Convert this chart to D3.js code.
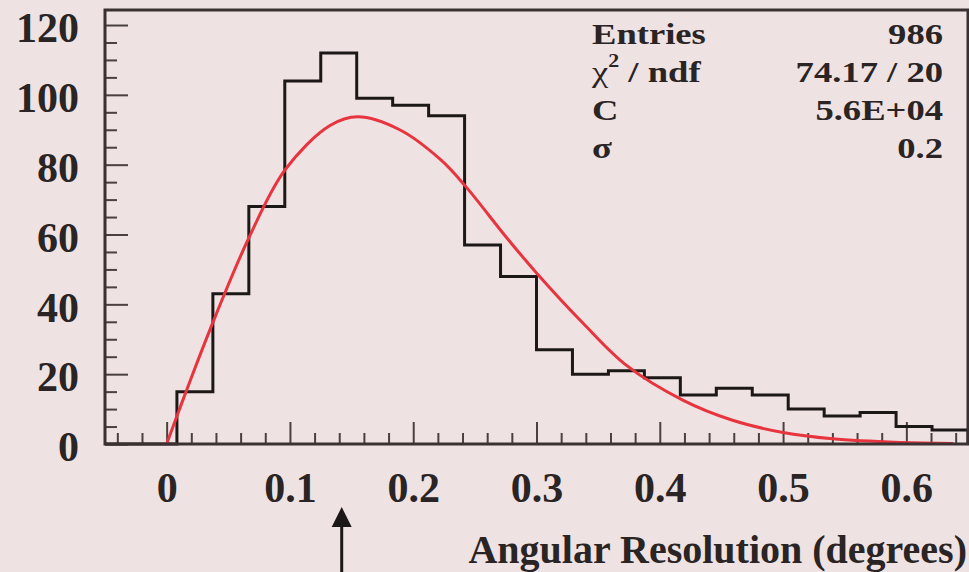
<!DOCTYPE html>
<html>
<head>
<meta charset="utf-8">
<script src="https://cdn.jsdelivr.net/npm/d3@7"></script>
<style>
  body { margin: 0; background: #eee2e2; }
  text { font-family: "Liberation Serif", "Times New Roman", serif; font-weight: bold; fill: #2a2424; }
</style>
</head>
<body>
<div id="chart"></div>
<script>
// histogram: 24 bins from -0.05 to 0.65
var binLow = -0.05;
var binHigh = 0.65;
var binCounts = [0, 0, 15, 43, 68, 104, 112, 99, 97, 94, 57, 48, 27, 20, 21, 19, 14, 16, 14, 10, 8, 9, 5, 4];

// fitted curve
var fitX = [0, 0.02, 0.04, 0.066, 0.096, 0.1325, 0.155, 0.189, 0.222, 0.242, 0.276, 0.300, 0.338, 0.373, 0.419, 0.459, 0.500, 0.540, 0.595, 0.638];
var fitY = [0, 19, 37, 58.5, 78.5, 91.2, 93.7, 90, 81.5, 74, 59, 49, 34.5, 22.5, 12.5, 6.8, 3.3, 1.5, 0.45, 0.15];

var xTicks = [0, 0.1, 0.2, 0.3, 0.4, 0.5, 0.6];
var xTickLabels = ["0", "0.1", "0.2", "0.3", "0.4", "0.5", "0.6"];
var yTicks = [0, 20, 40, 60, 80, 100, 120];

var statNames = ["Entries", "chi2", "C", "\u03c3"];
var statValues = ["986", "74.17 / 20", "5.6E+04", "0.2"];

var xTitle = "Angular Resolution (degrees)";
var arrowAt = 0.142;

var svgWidth = 969;
var svgHeight = 572;

var frame = { left: 105, right: 968, top: 10, bottom: 444 };

var svg = d3.select("#chart")
  .append("svg")
  .attr("width", svgWidth)
  .attr("height", svgHeight);

svg.append("rect")
  .attr("width", svgWidth)
  .attr("height", svgHeight)
  .attr("fill", "#eee2e2");

var x = d3.scaleLinear()
  .domain([binLow, binHigh])
  .range([frame.left, frame.right]);

var y = d3.scaleLinear()
  .domain([0, 124.3])
  .range([frame.bottom, frame.top]);

// minor ticks
var xMinor = d3.range(-0.04, 0.65, 0.02).filter(v => Math.abs(v * 10 - Math.round(v * 10)) > 1e-6);
var yMinor = d3.range(5, 124, 5).filter(v => v % 20 !== 0);

svg.append("g")
  .attr("transform", `translate(0, ${frame.bottom})`)
  .call(d3.axisBottom(x).tickValues(xMinor).tickSize(-11).tickFormat(""));

svg.append("g")
  .attr("transform", `translate(${frame.left}, 0)`)
  .call(d3.axisLeft(y).tickValues(yMinor).tickSize(-12).tickFormat(""));

// major ticks
var xAxis = svg.append("g")
  .attr("transform", `translate(0, ${frame.bottom})`)
  .call(d3.axisBottom(x)
    .tickValues(xTicks)
    .tickSize(-22)
    .tickPadding(28)
    .tickFormat((d, i) => xTickLabels[i]));

var yAxis = svg.append("g")
  .attr("transform", `translate(${frame.left}, 0)`)
  .call(d3.axisLeft(y)
    .tickValues(yTicks)
    .tickSize(-23)
    .tickPadding(26));

svg.selectAll(".domain").remove();
svg.selectAll(".tick line")
  .attr("stroke", "#4a4040")
  .attr("stroke-width", 2);

xAxis.selectAll("text")
  .attr("font-size", 42)
  .attr("font-family", null)
  .attr("fill", null);

yAxis.selectAll("text")
  .attr("font-size", 42)
  .attr("dy", "0.4em")
  .attr("font-family", null)
  .attr("fill", null);

// histogram outline
var binWidth = (binHigh - binLow) / binCounts.length;
var steps = [[binLow, 0]];
binCounts.forEach(function(c, i) {
  steps.push([binLow + i * binWidth, c]);
  steps.push([binLow + (i + 1) * binWidth, c]);
});
steps.push([binHigh, 0]);

svg.append("path")
  .datum(steps)
  .attr("fill", "none")
  .attr("stroke", "#1c1818")
  .attr("stroke-width", 3)
  .attr("d", d3.line().x(d => x(d[0])).y(d => y(d[1])));

// fit curve
svg.append("path")
  .datum(fitX.map((v, i) => [v, fitY[i]]))
  .attr("fill", "none")
  .attr("stroke", "#e8343e")
  .attr("stroke-width", 3)
  .attr("d", d3.line().x(d => x(d[0])).y(d => y(d[1])).curve(d3.curveCatmullRom.alpha(0.5)));

// frame
svg.append("rect")
  .attr("x", frame.left)
  .attr("y", frame.top)
  .attr("width", frame.right - frame.left)
  .attr("height", frame.bottom - frame.top)
  .attr("fill", "none")
  .attr("stroke", "#3a3232")
  .attr("stroke-width", 3);

// stat box
var stats = svg.append("g")
  .attr("transform", "translate(592, 0) scale(1.22, 1)");

var rowY = [44, 82, 120, 158];

statNames.forEach(function(name, i) {
  var t = stats.append("text")
    .attr("x", 0)
    .attr("y", rowY[i])
    .attr("font-size", 30);
  if (name === "chi2") {
    t.append("tspan").attr("font-weight", "normal").text("\u03c7");
    t.append("tspan").attr("font-size", 18).attr("dy", -15).text("2");
    t.append("tspan").attr("dy", 15).text(" / ndf");
  } else if (name === "\u03c3") {
    t.attr("font-weight", "normal").text(name);
  } else {
    t.text(name);
  }
  stats.append("text")
    .attr("x", (943 - 592) / 1.22)
    .attr("y", rowY[i])
    .attr("font-size", 30)
    .attr("text-anchor", "end")
    .text(statValues[i]);
});

// axis title
svg.append("text")
  .attr("x", 967)
  .attr("y", 563)
  .attr("font-size", 40)
  .attr("text-anchor", "end")
  .text(xTitle);

// arrow marker
var ax = x(arrowAt);
svg.append("line")
  .attr("x1", ax).attr("x2", ax)
  .attr("y1", 524).attr("y2", 572)
  .attr("stroke", "#1c1818")
  .attr("stroke-width", 3);
svg.append("path")
  .attr("d", `M${ax},507 L${ax - 10},527 L${ax + 10},527 Z`)
  .attr("fill", "#1c1818");
</script>
</body>
</html>
